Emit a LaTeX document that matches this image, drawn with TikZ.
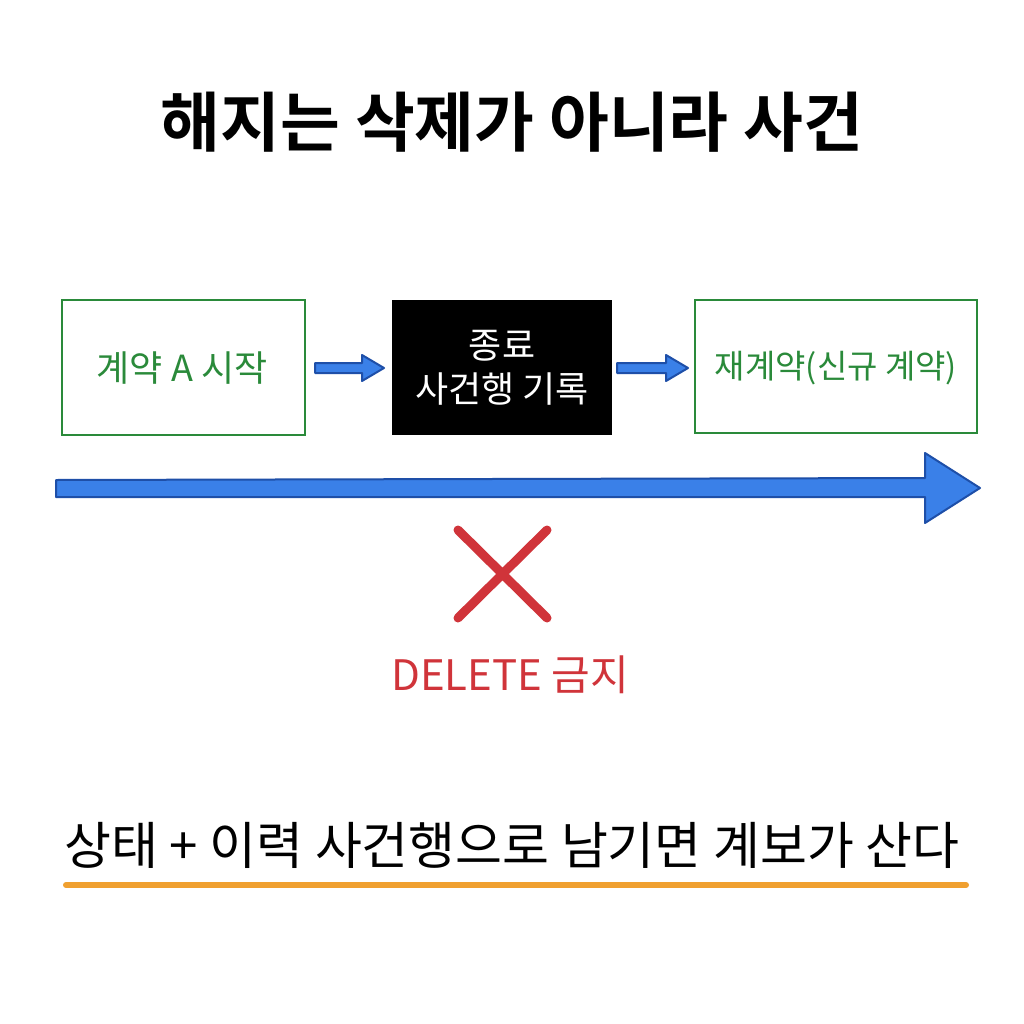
\documentclass[tikz,border=0pt]{standalone}
\usepackage{fontspec}
\setmainfont{Noto Sans CJK KR}[BoldFont={Noto Sans CJK KR Bold}]
\definecolor{gr}{HTML}{2A8A3A}
\definecolor{bl}{HTML}{3A80E8}
\definecolor{bld}{HTML}{1E4FA8}
\definecolor{rd}{HTML}{D0343A}
\definecolor{og}{HTML}{F0A030}
\begin{document}
\begin{tikzpicture}[x=1pt,y=-1pt,
  gbox/.style={draw=gr,line width=2.5pt,fill=white},
  bluearr/.style={draw=bld,fill=bl,line width=2pt,line join=round},
  lbl/.style={font=\fontsize{36}{44}\selectfont}]
\useasboundingbox (0,0) rectangle (1024,1024);
\fill[white] (0,0) rectangle (1024,1024);
\node[font=\fontsize{65}{72}\selectfont\bfseries] (title) at (512,122) {해지는 삭제가 아니라 사건};
\draw[gbox] (62,300) rectangle (305,435);
\node[lbl,text=gr] (a) at (182,368) {계약 A 시작};
\fill[black] (392,300) rectangle (612,435);
\node[lbl,text=white,align=center] (b) at (502,368) {종료\\사건행 기록};
\draw[gbox] (695,300) rectangle (977,433);
\node[lbl,text=gr,font=\fontsize{33}{40}\selectfont] (c) at (836,368) {재계약(신규 계약)};
\draw[bluearr] (315,363) -- (362,363) -- (362,355) -- (384,368) -- (362,381) -- (362,373) -- (315,373) -- cycle;
\draw[bluearr] (617,363) -- (666,363) -- (666,355) -- (688,368) -- (666,381) -- (666,373) -- (617,373) -- cycle;
\draw[bluearr] (56,480) -- (925,478) -- (925,453) -- (980,488) -- (925,523) -- (925,497) -- (56,497) -- cycle;
\draw[rd,line width=9pt,line cap=round] (458,530) -- (547,618) (547,530) -- (458,618);
\node[font=\fontsize{42}{48}\selectfont,text=rd] (d) at (510,675) {DELETE 금지};
\node[font=\fontsize{51}{58}\selectfont] (e) at (512,845) {상태 + 이력 사건행으로 남기면 계보가 산다};
\draw[og,line width=6pt,line cap=round] (66,885) -- (966,885);
\end{tikzpicture}
\end{document}
